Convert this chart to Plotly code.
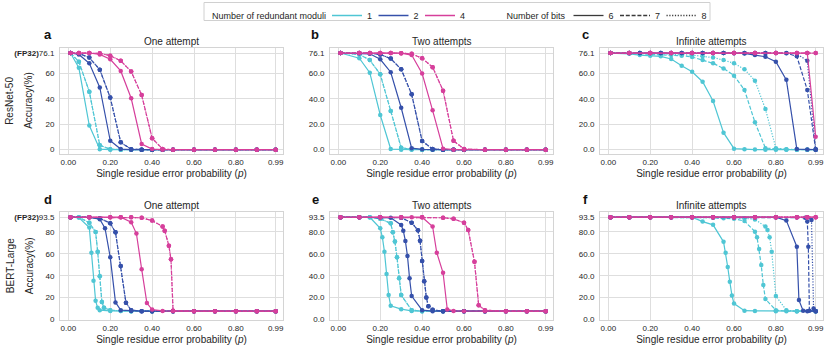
import plotly.graph_objects as go

# ---------------- data ----------------
# Panel a: ResNet-50, one attempt
A_P = [0.01, 0.05, 0.1, 0.15, 0.2, 0.25, 0.3, 0.35, 0.4, 0.45, 0.5, 0.6, 0.7, 0.8, 0.9, 0.99]
A_M1_B6 = [76.1, 64.5, 19.0, 0.4, 0, 0, 0, 0, 0, 0, 0, 0, 0, 0, 0, 0]
A_M1_B7 = [76.1, 69.3, 45.7, 3.5, 0.3, 0, 0, 0, 0, 0, 0, 0, 0, 0, 0, 0]
A_M1_B8 = [76.1, 69.3, 45.7, 3.5, 0.3, 0, 0, 0, 0, 0, 0, 0, 0, 0, 0, 0]
A_M2_B6 = [76.1, 75.0, 68.0, 49.0, 7.0, 0.5, 0, 0, 0, 0, 0, 0, 0, 0, 0, 0]
A_M2_B7 = [76.1, 75.8, 72.5, 63.0, 41.0, 5.8, 0.3, 0, 0, 0, 0, 0, 0, 0, 0, 0]
A_M2_B8 = [76.1, 75.8, 72.5, 63.0, 41.0, 5.8, 0.3, 0, 0, 0, 0, 0, 0, 0, 0, 0]
A_M4_B6 = [76.1, 76.1, 76.1, 75.0, 71.2, 62.0, 40.5, 4.5, 0.5, 0, 0, 0, 0, 0, 0, 0]
A_M4_B7 = [76.1, 76.1, 76.1, 75.9, 74.0, 70.0, 61.5, 43.0, 9.0, 0.5, 0, 0, 0, 0, 0, 0]
A_M4_B8 = [76.1, 76.1, 76.1, 75.9, 74.0, 70.0, 61.5, 43.0, 9.0, 0.5, 0, 0, 0, 0, 0, 0]

# Panel b: ResNet-50, two attempts
B_P = [0.01, 0.1, 0.15, 0.2, 0.25, 0.3, 0.35, 0.4, 0.45, 0.5, 0.55, 0.6, 0.7, 0.8, 0.9, 0.99]
B_M1_B6 = [76.1, 72.0, 60.6, 27.3, 0.5, 0, 0, 0, 0, 0, 0, 0, 0, 0, 0, 0]
B_M1_B7 = [76.1, 75.0, 70.6, 59.3, 30.5, 1.5, 0.3, 0, 0, 0, 0, 0, 0, 0, 0, 0]
B_M1_B8 = [76.1, 75.0, 70.6, 59.3, 30.5, 1.5, 0.3, 0, 0, 0, 0, 0, 0, 0, 0, 0]
B_M2_B6 = [76.1, 76.0, 75.5, 71.2, 61.0, 33.0, 1.2, 0.3, 0, 0, 0, 0, 0, 0, 0, 0]
B_M2_B7 = [76.1, 76.1, 76.0, 75.0, 71.7, 63.3, 43.6, 6.8, 0.5, 0, 0, 0, 0, 0, 0, 0]
B_M2_B8 = [76.1, 76.1, 76.0, 75.0, 71.7, 63.3, 43.6, 6.8, 0.5, 0, 0, 0, 0, 0, 0, 0]
B_M4_B6 = [76.1, 76.1, 76.1, 76.1, 76.1, 76.0, 74.5, 60.0, 31.0, 0.8, 0, 0, 0, 0, 0, 0]
B_M4_B7 = [76.1, 76.1, 76.1, 76.1, 76.1, 76.0, 75.5, 72.0, 65.0, 46.5, 7.0, 0.5, 0, 0, 0, 0]
B_M4_B8 = [76.1, 76.1, 76.1, 76.1, 76.1, 76.0, 75.5, 72.0, 65.0, 46.5, 7.0, 0.5, 0, 0, 0, 0]

# Panel c: ResNet-50, infinite attempts
C_P = [0.01, 0.1, 0.15, 0.2, 0.25, 0.3, 0.35, 0.4, 0.45, 0.5, 0.55, 0.6, 0.65, 0.7, 0.75, 0.8, 0.85, 0.9, 0.95, 0.99]
C_M1_B6 = [76.1, 75.5, 74.5, 74.0, 73.5, 71.4, 66.0, 61.4, 53.5, 38.3, 13.4, 0.8, 0.3, 0.1, 0, 0, 0, 0, 0, 0]
C_M1_B7 = [76.1, 76.0, 75.5, 75.0, 74.8, 74.5, 74.0, 73.0, 70.6, 68.0, 64.0, 58.3, 47.0, 21.6, 1.2, 0.4, 0.2, 0, 0, 0]
C_M1_B8 = [76.1, 76.1, 76.0, 75.8, 75.5, 75.2, 75.0, 74.5, 73.5, 72.5, 70.6, 68.0, 63.3, 54.3, 32.0, 1.2, 0.3, 0, 0, 0]
C_M2_B6 = [76.1, 76.1, 76.1, 76.1, 76.1, 76.1, 76.1, 76.1, 76.1, 76.1, 76.1, 76.0, 75.8, 74.5, 73.2, 69.3, 55.0, 0.5, 0.2, 0]
C_M2_B7 = [76.1, 76.1, 76.1, 76.1, 76.1, 76.1, 76.1, 76.1, 76.1, 76.1, 76.1, 76.1, 76.1, 76.1, 76.1, 76.1, 76.0, 73.5, 47.0, 0]
C_M2_B8 = [76.1, 76.1, 76.1, 76.1, 76.1, 76.1, 76.1, 76.1, 76.1, 76.1, 76.1, 76.1, 76.1, 76.1, 76.1, 76.1, 76.1, 75.5, 70.0, 0.5]
C_P_M4 = [0.01, 0.1, 0.2, 0.3, 0.4, 0.5, 0.6, 0.7, 0.8, 0.9, 0.95, 0.99]
C_M4_B6 = [76.1, 76.1, 76.1, 76.1, 76.1, 76.1, 76.1, 76.1, 76.1, 76.1, 76.1, 10.2]
C_M4_B7 = [76.1, 76.1, 76.1, 76.1, 76.1, 76.1, 76.1, 76.1, 76.1, 76.1, 76.1, 76.1]
C_M4_B8 = [76.1, 76.1, 76.1, 76.1, 76.1, 76.1, 76.1, 76.1, 76.1, 76.1, 76.1, 76.1]

# Panel d: BERT-Large, one attempt
D_M1_B6_P = [0.01, 0.05, 0.1, 0.11, 0.12, 0.13, 0.14, 0.15, 0.2, 0.3, 0.4, 0.5, 0.6, 0.7, 0.8, 0.9, 0.99]
D_M1_B6 = [93.5, 93.2, 84.0, 61.0, 35.5, 17.0, 10.6, 8.5, 7.8, 7.6, 7.6, 7.6, 7.6, 7.6, 7.6, 7.6, 7.6]
D_M1_B7_P = [0.01, 0.05, 0.1, 0.13, 0.14, 0.15, 0.16, 0.17, 0.2, 0.25, 0.3, 0.4, 0.5, 0.6, 0.7, 0.8, 0.9, 0.99]
D_M1_B7 = [93.5, 93.4, 88.5, 80.0, 62.0, 39.5, 16.0, 10.6, 8.5, 7.8, 7.6, 7.6, 7.6, 7.6, 7.6, 7.6, 7.6, 7.6]
D_M1_B8 = [93.5, 93.4, 88.5, 80.0, 62.0, 39.5, 16.0, 10.6, 8.5, 7.8, 7.6, 7.6, 7.6, 7.6, 7.6, 7.6, 7.6, 7.6]
D_M2_B6_P = [0.01, 0.1, 0.15, 0.175, 0.2, 0.225, 0.25, 0.3, 0.35, 0.4, 0.5, 0.6, 0.7, 0.8, 0.9, 0.99]
D_M2_B6 = [93.5, 93.4, 91.7, 83.4, 56.8, 15.6, 8.5, 7.8, 7.6, 7.6, 7.6, 7.6, 7.6, 7.6, 7.6, 7.6]
D_M2_B7_P = [0.01, 0.1, 0.15, 0.2, 0.225, 0.25, 0.275, 0.3, 0.35, 0.4, 0.5, 0.6, 0.7, 0.8, 0.9, 0.99]
D_M2_B7 = [93.5, 93.5, 92.5, 88.0, 79.7, 48.9, 15.2, 8.5, 7.6, 7.6, 7.6, 7.6, 7.6, 7.6, 7.6, 7.6]
D_M2_B8 = [93.5, 93.5, 92.5, 88.0, 79.7, 48.9, 15.2, 8.5, 7.6, 7.6, 7.6, 7.6, 7.6, 7.6, 7.6, 7.6]
D_M4_B6_P = [0.01, 0.1, 0.2, 0.25, 0.3, 0.325, 0.35, 0.375, 0.4, 0.45, 0.5, 0.6, 0.7, 0.8, 0.9, 0.99]
D_M4_B6 = [93.5, 93.5, 93.5, 93.5, 89.0, 78.5, 46.0, 15.0, 9.0, 7.8, 7.6, 7.6, 7.6, 7.6, 7.6, 7.6]
D_M4_B7_P = [0.01, 0.1, 0.2, 0.25, 0.3, 0.35, 0.4, 0.45, 0.46, 0.48, 0.49, 0.5, 0.6, 0.7, 0.8, 0.9, 0.99]
D_M4_B7 = [93.5, 93.5, 93.5, 93.5, 93.5, 93.0, 90.4, 85.0, 81.2, 67.5, 55.0, 8.0, 7.6, 7.6, 7.6, 7.6, 7.6]
D_M4_B8 = [93.5, 93.5, 93.5, 93.5, 93.5, 93.0, 90.4, 85.0, 81.2, 67.5, 55.0, 8.0, 7.6, 7.6, 7.6, 7.6, 7.6]

# Panel e: BERT-Large, two attempts
E_M1_B6_P = [0.01, 0.1, 0.15, 0.2, 0.21, 0.22, 0.23, 0.24, 0.25, 0.3, 0.35, 0.4, 0.5, 0.6, 0.7, 0.8, 0.9, 0.99]
E_M1_B6 = [93.5, 93.5, 93.5, 83.4, 75.2, 62.0, 41.5, 22.3, 12.5, 9.4, 7.8, 7.6, 7.6, 7.6, 7.6, 7.6, 7.6, 7.6]
E_M1_B7_P = [0.01, 0.1, 0.15, 0.2, 0.25, 0.26, 0.27, 0.28, 0.29, 0.3, 0.35, 0.4, 0.5, 0.6, 0.7, 0.8, 0.9, 0.99]
E_M1_B7 = [93.5, 93.5, 93.5, 92.0, 88.0, 79.7, 71.2, 56.8, 37.6, 22.3, 8.5, 7.6, 7.6, 7.6, 7.6, 7.6, 7.6, 7.6]
E_M1_B8 = [93.5, 93.5, 93.5, 92.0, 88.0, 79.7, 71.2, 56.8, 37.6, 22.3, 8.5, 7.6, 7.6, 7.6, 7.6, 7.6, 7.6, 7.6]
E_M2_B6_P = [0.01, 0.1, 0.2, 0.25, 0.3, 0.31, 0.32, 0.33, 0.34, 0.35, 0.4, 0.45, 0.5, 0.6, 0.7, 0.8, 0.9, 0.99]
E_M2_B6 = [93.5, 93.5, 93.5, 93.0, 86.4, 81.2, 71.8, 58.0, 37.6, 21.4, 8.5, 7.6, 7.6, 7.6, 7.6, 7.6, 7.6, 7.6]
E_M2_B7_P = [0.01, 0.1, 0.2, 0.3, 0.35, 0.38, 0.39, 0.4, 0.41, 0.42, 0.43, 0.45, 0.5, 0.6, 0.7, 0.8, 0.9, 0.99]
E_M2_B7 = [93.5, 93.5, 93.5, 93.0, 88.5, 81.5, 72.0, 53.4, 35.0, 20.0, 12.0, 8.8, 7.6, 7.6, 7.6, 7.6, 7.6, 7.6]
E_M2_B8 = [93.5, 93.5, 93.5, 93.0, 88.5, 81.5, 72.0, 53.4, 35.0, 20.0, 12.0, 8.8, 7.6, 7.6, 7.6, 7.6, 7.6, 7.6]
E_M4_B6_P = [0.01, 0.1, 0.2, 0.3, 0.35, 0.4, 0.45, 0.47, 0.5, 0.52, 0.55, 0.6, 0.7, 0.8, 0.9, 0.99]
E_M4_B6 = [93.5, 93.5, 93.5, 93.5, 93.5, 93.5, 85.0, 61.0, 42.7, 9.2, 7.8, 7.6, 7.6, 7.6, 7.6, 7.6]
E_M4_B7_P = [0.01, 0.1, 0.2, 0.3, 0.4, 0.5, 0.55, 0.6, 0.62, 0.65, 0.67, 0.7, 0.8, 0.9, 0.99]
E_M4_B7 = [93.5, 93.5, 93.5, 93.5, 93.4, 93.0, 92.0, 88.5, 81.8, 52.8, 13.0, 8.5, 7.6, 7.6, 7.6]
E_M4_B8 = [93.5, 93.5, 93.5, 93.5, 93.4, 93.0, 92.0, 88.5, 81.8, 52.8, 13.0, 8.5, 7.6, 7.6, 7.6]

# Panel f: BERT-Large, infinite attempts
F_M1_B6_P = [0.01, 0.1, 0.2, 0.3, 0.4, 0.45, 0.5, 0.55, 0.56, 0.57, 0.58, 0.59, 0.6, 0.65, 0.7, 0.8, 0.9, 0.99]
F_M1_B6 = [93.5, 93.5, 93.5, 93.5, 93.5, 89.5, 86.5, 71.0, 61.0, 48.0, 34.5, 22.0, 14.5, 8.0, 7.8, 7.6, 7.6, 7.6]
F_M1_B7_P = [0.01, 0.1, 0.2, 0.3, 0.4, 0.5, 0.55, 0.6, 0.65, 0.7, 0.71, 0.72, 0.73, 0.74, 0.75, 0.8, 0.85, 0.9, 0.99]
F_M1_B7 = [93.5, 93.5, 93.5, 93.5, 93.5, 93.0, 92.5, 92.0, 90.0, 80.3, 75.2, 64.4, 49.8, 31.4, 18.6, 8.5, 7.6, 7.6, 7.6]
F_M1_B8_P = [0.01, 0.1, 0.2, 0.3, 0.4, 0.5, 0.6, 0.65, 0.7, 0.75, 0.76, 0.77, 0.78, 0.8, 0.85, 0.9, 0.99]
F_M1_B8 = [93.5, 93.5, 93.5, 93.5, 93.5, 93.5, 93.0, 92.5, 91.5, 84.9, 81.8, 75.2, 62.0, 21.4, 8.5, 7.6, 7.6]
F_M2_B6_P = [0.01, 0.1, 0.2, 0.3, 0.4, 0.5, 0.6, 0.7, 0.8, 0.85, 0.9, 0.91, 0.93, 0.95, 0.99]
F_M2_B6 = [93.5, 93.5, 93.5, 93.5, 93.5, 93.5, 93.5, 93.5, 93.5, 90.4, 66.5, 17.7, 8.0, 7.6, 7.6]
F_M2_B7_P = [0.01, 0.1, 0.2, 0.3, 0.4, 0.5, 0.6, 0.7, 0.8, 0.9, 0.94, 0.95, 0.955, 0.96, 0.99]
F_M2_B7 = [93.5, 93.5, 93.5, 93.5, 93.5, 93.5, 93.5, 93.5, 93.5, 93.5, 93.0, 89.5, 66.5, 8.0, 7.6]
F_M2_B8_P = [0.01, 0.1, 0.2, 0.3, 0.4, 0.5, 0.6, 0.7, 0.8, 0.9, 0.95, 0.97, 0.98, 0.99]
F_M2_B8 = [93.5, 93.5, 93.5, 93.5, 93.5, 93.5, 93.5, 93.5, 93.5, 93.5, 93.4, 91.0, 10.0, 7.6]
F_P_M4 = [0.01, 0.1, 0.2, 0.3, 0.4, 0.5, 0.6, 0.7, 0.8, 0.9, 0.95, 0.99]
F_M4_B6 = [93.5, 93.5, 93.5, 93.5, 93.5, 93.5, 93.5, 93.5, 93.5, 93.5, 93.5, 93.5]
F_M4_B7 = [93.5, 93.5, 93.5, 93.5, 93.5, 93.5, 93.5, 93.5, 93.5, 93.5, 93.5, 93.5]
F_M4_B8 = [93.5, 93.5, 93.5, 93.5, 93.5, 93.5, 93.5, 93.5, 93.5, 93.5, 93.5, 93.5]

# Tick labels and texts
X_TICKS = [0, 0.2, 0.4, 0.6, 0.8, 0.99]
X_TICK_TEXT = ["0.00", "0.20", "0.40", "0.60", "0.80", "0.99"]
Y_TICKS_RESNET = [0, 20, 40, 60, 76.1]
Y_TEXT_RESNET_A = ["0", "20", "40", "60", "<b>(FP32)</b>76.1"]
Y_TEXT_RESNET = ["0.0", "20.0", "40.0", "60.0", "76.1"]
Y_TICKS_BERT = [0, 20, 40, 60, 80, 93.5]
Y_TEXT_BERT_D = ["0", "20", "40", "60", "80", "<b>(FP32)</b>93.5"]
Y_TEXT_BERT = ["0.0", "20.0", "40.0", "60.0", "80.0", "93.5"]
PANEL_TITLES = ["One attempt", "Two attempts", "Infinite attempts"]
PANEL_LETTERS = ["a", "b", "c", "d", "e", "f"]
MODELS = ["ResNet-50", "BERT-Large"]
MODULI = ["1", "2", "4"]
BITS = ["6", "7", "8"]
LEGEND_HEAD_MODULI = "Number of redundant moduli"
LEGEND_HEAD_BITS = "Number of bits"

# ---------------- styling ----------------
COLORS = {"1": "#4fc6d4", "2": "#3550aa", "4": "#d63f9b"}
DASHES = {"6": "solid", "7": "4px,1.8px", "8": "1.2px,1.6px"}
FONT = "Liberation Sans, Arial, sans-serif"
TXT = "#262626"
W, H = 830, 350
TICK_SIZE = 8

panels = [
    [(A_P, A_M1_B6), (A_P, A_M1_B7), (A_P, A_M1_B8), (A_P, A_M2_B6), (A_P, A_M2_B7), (A_P, A_M2_B8),
     (A_P, A_M4_B6), (A_P, A_M4_B7), (A_P, A_M4_B8)],
    [(B_P, B_M1_B6), (B_P, B_M1_B7), (B_P, B_M1_B8), (B_P, B_M2_B6), (B_P, B_M2_B7), (B_P, B_M2_B8),
     (B_P, B_M4_B6), (B_P, B_M4_B7), (B_P, B_M4_B8)],
    [(C_P, C_M1_B6), (C_P, C_M1_B7), (C_P, C_M1_B8), (C_P, C_M2_B6), (C_P, C_M2_B7), (C_P, C_M2_B8),
     (C_P_M4, C_M4_B6), (C_P_M4, C_M4_B7), (C_P_M4, C_M4_B8)],
    [(D_M1_B6_P, D_M1_B6), (D_M1_B7_P, D_M1_B7), (D_M1_B7_P, D_M1_B8), (D_M2_B6_P, D_M2_B6),
     (D_M2_B7_P, D_M2_B7), (D_M2_B7_P, D_M2_B8), (D_M4_B6_P, D_M4_B6), (D_M4_B7_P, D_M4_B7),
     (D_M4_B7_P, D_M4_B8)],
    [(E_M1_B6_P, E_M1_B6), (E_M1_B7_P, E_M1_B7), (E_M1_B7_P, E_M1_B8), (E_M2_B6_P, E_M2_B6),
     (E_M2_B7_P, E_M2_B7), (E_M2_B7_P, E_M2_B8), (E_M4_B6_P, E_M4_B6), (E_M4_B7_P, E_M4_B7),
     (E_M4_B7_P, E_M4_B8)],
    [(F_M1_B6_P, F_M1_B6), (F_M1_B7_P, F_M1_B7), (F_M1_B8_P, F_M1_B8), (F_M2_B6_P, F_M2_B6),
     (F_M2_B7_P, F_M2_B7), (F_M2_B8_P, F_M2_B8), (F_P_M4, F_M4_B6), (F_P_M4, F_M4_B7), (F_P_M4, F_M4_B8)],
]

# plot-area pixel boxes (left, right, top, bottom)
COL_X = [(60, 283), (330, 553), (600, 823)]
ROW_Y = [(47.7, 154.0), (212.3, 320.0)]

fig = go.Figure()

for i, series in enumerate(panels):
    ax = "" if i == 0 else str(i + 1)
    k = 0
    for m in MODULI:
        for b in BITS:
            xs, ys = series[k]
            k += 1
            fig.add_trace(go.Scatter(
                x=xs, y=ys, xaxis="x" + ax, yaxis="y" + ax, mode="lines+markers",
                line=dict(color=COLORS[m], width=1.2, dash=DASHES[b]),
                marker=dict(color=COLORS[m], size=4.5),
                showlegend=False, hoverinfo="skip"))

# legend entries (headers use an invisible line swatch)
fig.add_trace(go.Scatter(x=[None], y=[None], mode="lines", name=LEGEND_HEAD_MODULI, legendwidth=110,
                         line=dict(color="rgba(0,0,0,0)", width=1)))
for m in MODULI:
    fig.add_trace(go.Scatter(x=[None], y=[None], mode="lines", name=m, legendwidth=1.5,
                             line=dict(color=COLORS[m], width=1.5)))
fig.add_trace(go.Scatter(x=[None], y=[None], mode="lines", name=LEGEND_HEAD_BITS, legendwidth=57,
                         line=dict(color="rgba(0,0,0,0)", width=1)))
for b in BITS:
    fig.add_trace(go.Scatter(x=[None], y=[None], mode="lines", name=b, legendwidth=1.5,
                             line=dict(color="#3a3a3a", width=1.3, dash=DASHES[b])))

layout = dict(
    width=W, height=H, margin=dict(l=0, r=0, t=0, b=0),
    paper_bgcolor="white", plot_bgcolor="white",
    font=dict(family=FONT, color=TXT, size=9),
    legend=dict(orientation="h", x=172 / W, xanchor="left", y=1 - 1 / H, yanchor="top",
                bgcolor="rgba(0,0,0,0)", borderwidth=0, font=dict(size=9, color=TXT),
                itemwidth=30, traceorder="normal"),
    shapes=[dict(type="rect", xref="paper", yref="paper", x0=204 / W, x1=710 / W,
                 y0=1 - 20.5 / H, y1=1 - 2.5 / H, line=dict(color="#d0d0d0", width=1),
                 fillcolor="rgba(0,0,0,0)", layer="below")],
)

annotations = []
for i in range(6):
    r, c = divmod(i, 3)
    ax = "" if i == 0 else str(i + 1)
    (x0, x1), (y0, y1) = COL_X[c], ROW_Y[r]
    if r == 0:
        yt, ytext, yr = Y_TICKS_RESNET, (Y_TEXT_RESNET_A if c == 0 else Y_TEXT_RESNET), [-3.4, 80.3]
    else:
        yt, ytext, yr = Y_TICKS_BERT, (Y_TEXT_BERT_D if c == 0 else Y_TEXT_BERT), [-0.5, 98]
    layout["xaxis" + ax] = dict(
        domain=[x0 / W, x1 / W], anchor="y" + ax, range=[-0.04, 1.025],
        tickvals=X_TICKS, ticktext=X_TICK_TEXT, showgrid=True, gridcolor="#dedede", gridwidth=1,
        showline=True, mirror=True, linecolor="#d4d4d4", linewidth=1, zeroline=False, ticks="",
        tickfont=dict(size=TICK_SIZE, color=TXT), automargin=False,
        title=dict(text="Single residue error probability (<i>p</i>)", font=dict(size=10, color=TXT),
                   standoff=4))
    layout["yaxis" + ax] = dict(
        domain=[1 - y1 / H, 1 - y0 / H], anchor="x" + ax, range=yr,
        tickvals=yt, ticktext=ytext, showgrid=True, gridcolor="#dedede", gridwidth=1,
        showline=True, mirror=True, linecolor="#d4d4d4", linewidth=1, zeroline=False, ticks="",
        tickfont=dict(size=TICK_SIZE, color=TXT), automargin=False, ticklabelstandoff=3)
    # panel title
    annotations.append(dict(text=PANEL_TITLES[c], x=(x0 + x1) / 2 / W, y=1 - (y0 - 6.5) / H,
                            xref="paper", yref="paper", showarrow=False, xanchor="center",
                            yanchor="middle", font=dict(size=10, color=TXT)))
    # panel letter
    annotations.append(dict(text="<b>%s</b>" % PANEL_LETTERS[i], x=(x0 - 12) / W if c == 0 else (x0 - 15) / W,
                            y=1 - (y0 - 13) / H, xref="paper", yref="paper", showarrow=False,
                            xanchor="center", yanchor="middle", font=dict(size=13, color="#111")))

for r in range(2):
    yc = 1 - (ROW_Y[r][0] + ROW_Y[r][1]) / 2 / H
    annotations.append(dict(text=MODELS[r], x=10 / W, y=yc, xref="paper", yref="paper",
                            showarrow=False, textangle=-90, xanchor="center", yanchor="middle",
                            font=dict(size=10, color=TXT)))
    annotations.append(dict(text="Accuracy(%)", x=29 / W, y=yc, xref="paper", yref="paper",
                            showarrow=False, textangle=-90, xanchor="center", yanchor="middle",
                            font=dict(size=10, color=TXT)))

layout["annotations"] = annotations
fig.update_layout(template="none")
fig.update_layout(**layout)

fig.write_html("out.html", config={"displayModeBar": False},
               post_script="document.body.style.margin='0px';")
